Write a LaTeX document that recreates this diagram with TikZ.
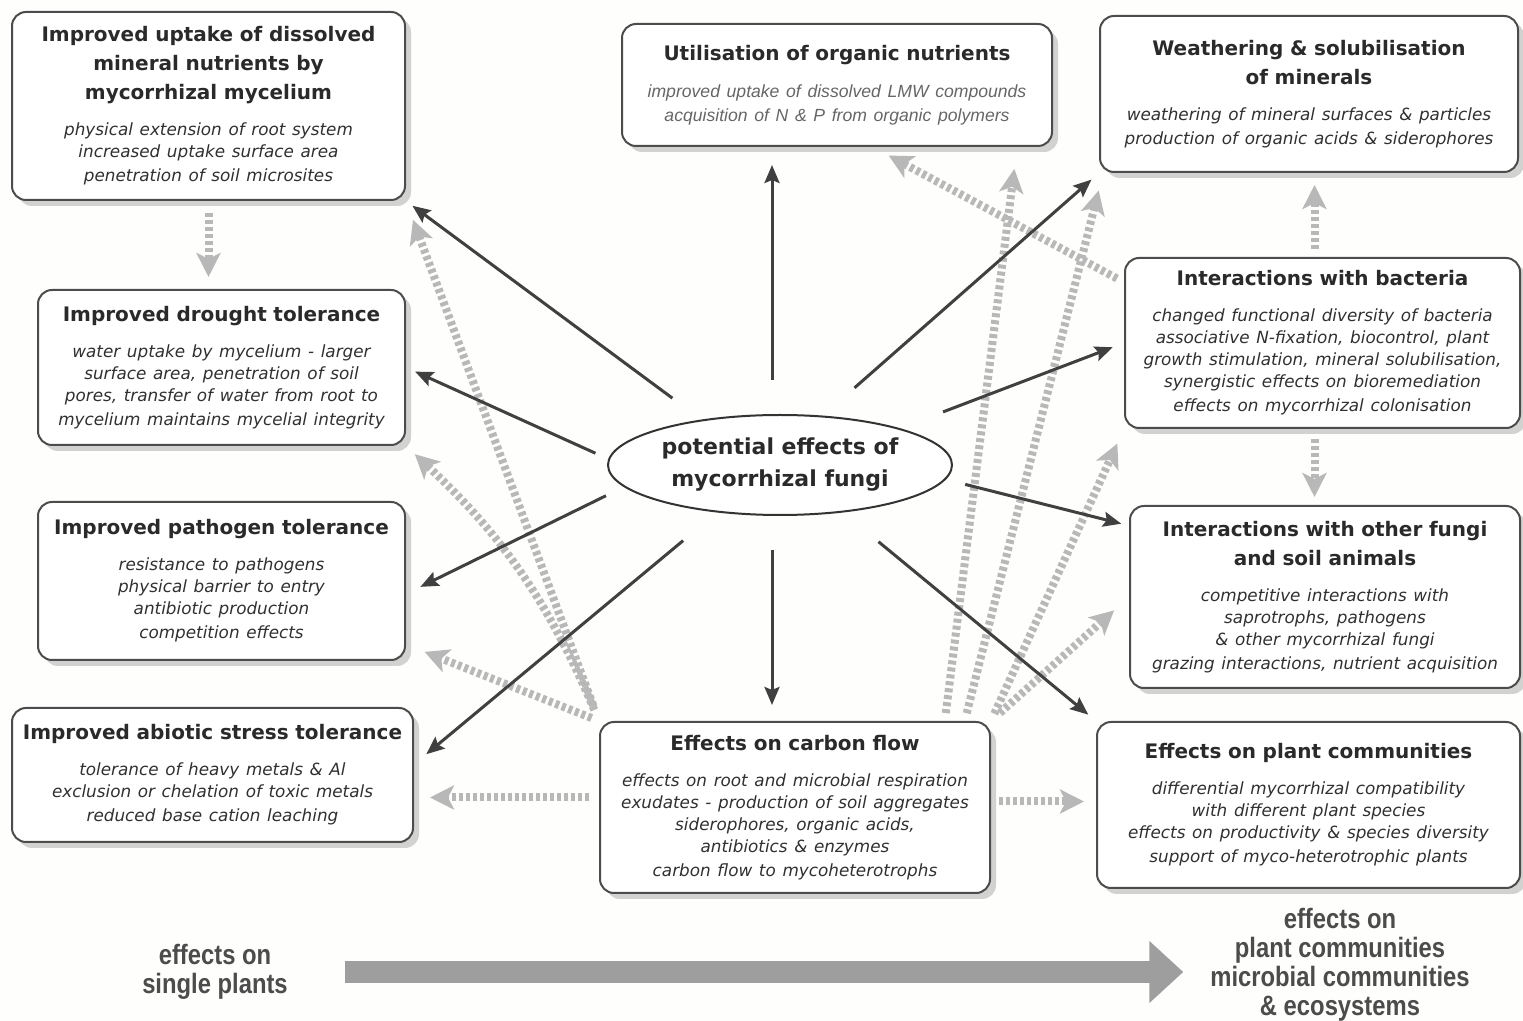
\documentclass[tikz,border=0pt]{standalone}
\usepackage{fontspec}
\setmainfont{DejaVu Sans}
\newfontfamily\arialfont{Liberation Sans}
\newfontfamily\narrowfont{Liberation Sans}[FakeStretch=0.85, BoldFont={Liberation Sans Bold}]
\usetikzlibrary{arrows.meta,shapes.geometric,shadows}
\setlength{\parindent}{0pt}

\definecolor{titlegray}{HTML}{2A2A2A}
\definecolor{itemgray}{HTML}{303030}
\definecolor{paper}{HTML}{FEFEFC}

% text of the boxes: bold heading, then italic details
\newcommand{\ttl}{\fontsize{10}{14.5}\selectfont\bfseries\color{titlegray}}
\newcommand{\itm}{\fontsize{8.4}{11}\selectfont\mdseries\itshape\color{itemgray}}

\begin{document}
\begin{tikzpicture}[x=0.5pt, y=-0.5pt,
    effbox/.style={draw=black!70, line width=1pt, rounded corners=7pt, fill=white, align=center,
      inner xsep=2pt, inner ysep=3pt, drop shadow={shadow xshift=3pt, shadow yshift=-3pt, opacity=0.35}},
    hub/.style={ellipse, draw=black!80, line width=1pt, fill=white, minimum width=172pt, minimum height=50pt,
      inner xsep=-8pt, inner ysep=0pt, align=center, font=\fontsize{11}{16}\selectfont\bfseries\color{titlegray}},
    strong/.style={draw=black!75, line width=1.5pt, -{Stealth[length=9pt,width=7.5pt,inset=1.5pt]}},
    weak/.style={draw=black!28, line width=4pt, dash pattern=on 2pt off 1.5pt, -{Stealth[length=12pt,width=12pt,inset=3pt]}},
    scalelabel/.style={align=center, font=\narrowfont\bfseries\fontsize{14}{14.5}\selectfont, text=black!70},
    bigarrow/.style={draw=black!38, line width=11pt, -{Triangle[length=17pt,width=30pt]}}]

    \path[use as bounding box, fill=paper] (0,0) rectangle (1523,1021);

    % Central ellipse
    \node[hub] (fx) at (780,465) {potential effects of\\ mycorrhizal fungi};

    % Left column - effects on the plant
    \node[effbox, minimum width=196.5pt, minimum height=94pt, text width=192.5pt] (uptake) at (208.5,106)
      {\ttl Improved uptake of dissolved\\ mineral nutrients by\\ mycorrhizal mycelium\par\vspace{7pt}
       \itm physical extension of root system\\ increased uptake surface area\\ penetration of soil microsites};
    \node[effbox, minimum width=183.5pt, minimum height=77.5pt, text width=179.5pt] (drought) at (221.5,367.5)
      {\ttl Improved drought tolerance\par\vspace{7pt}
       \itm water uptake by mycelium - larger\\ surface area, penetration of soil\\ pores, transfer of water from root to\\ mycelium maintains mycelial integrity};
    \node[effbox, minimum width=183.5pt, minimum height=79pt, text width=179.5pt] (pathogen) at (221.5,581)
      {\ttl Improved pathogen tolerance\par\vspace{7pt}
       \itm resistance to pathogens\\ physical barrier to entry\\ antibiotic production\\ competition effects};
    \node[effbox, minimum width=200.5pt, minimum height=67pt, text width=196.5pt] (abiotic) at (212.5,775)
      {\ttl Improved abiotic stress tolerance\par\vspace{7pt}
       \itm tolerance of heavy metals \& Al\\ exclusion or chelation of toxic metals\\ reduced base cation leaching};

    % Top middle
    \node[effbox, minimum width=215pt, minimum height=61pt, text width=211pt] (organic) at (837,85)
      {\ttl Utilisation of organic nutrients\par\vspace{7pt}
       \fontsize{8.8}{11.5}\selectfont\arialfont\mdseries\itshape\color{black!60}improved uptake of dissolved LMW compounds\\ acquisition of N \& P from organic polymers};

    % Right column - soil and community effects
    \node[effbox, minimum width=209pt, minimum height=78pt, text width=205pt] (weathering) at (1309,94)
      {\ttl Weathering \& solubilisation\\ of minerals\par\vspace{7pt}
       \itm weathering of mineral surfaces \& particles\\ production of organic acids \& siderophores};
    \node[effbox, minimum width=197.5pt, minimum height=85pt, text width=193.5pt] (bacteria) at (1322.5,343)
      {\ttl Interactions with bacteria\par\vspace{7pt}
       \itm changed functional diversity of bacteria\\ associative N-fixation, biocontrol, plant\\ growth stimulation, mineral solubilisation,\\ synergistic effects on bioremediation\\ effects on mycorrhizal colonisation};
    \node[effbox, minimum width=195pt, minimum height=91pt, text width=191pt] (fungi) at (1325,597)
      {\ttl Interactions with other fungi\\ and soil animals\par\vspace{7pt}
       \itm competitive interactions with\\ saprotrophs, pathogens\\ \& other mycorrhizal fungi\\ grazing interactions, nutrient acquisition};
    \node[effbox, minimum width=211.5pt, minimum height=83pt, text width=207.5pt] (plantcom) at (1308.5,805)
      {\ttl Effects on plant communities\par\vspace{7pt}
       \itm differential mycorrhizal compatibility\\ with different plant species\\ effects on productivity \& species diversity\\ support of myco-heterotrophic plants};

    % Bottom middle
    \node[effbox, minimum width=195pt, minimum height=85.5pt, text width=191pt] (carbon) at (795,807.5)
      {\ttl Effects on carbon flow\par\vspace{7pt}
       \itm effects on root and microbial respiration\\ exudates - production of soil aggregates\\ siderophores, organic acids,\\ antibiotics \& enzymes\\ carbon flow to mycoheterotrophs};

    % Indirect effects (dotted)
    \draw[weak, shorten <=6pt, shorten >=6pt] (uptake.south) -- (uptake.south |- drought.north);
    \draw[weak, shorten <=4pt, shorten >=6pt] ([xshift=-4pt]bacteria.north) -- ([xshift=-4pt]bacteria.north |- weathering.south);
    \draw[weak, shorten <=5pt, shorten >=4pt] ([xshift=-4pt]bacteria.south) -- ([xshift=-4pt]bacteria.south |- fungi.north);
    \draw[weak, shorten <=4pt, shorten >=9pt] (bacteria.163) -- (organic.-60);

    \draw[weak, shorten <=8pt, shorten >=10pt] (carbon.north west) -- (uptake.south east);
    \draw[weak, shorten <=6pt, shorten >=6pt] (carbon.north west) to[bend right=12] (drought.south east);
    \draw[weak, shorten <=4pt, shorten >=10pt] (carbon.north west) -- (pathogen.-19);
    \draw[weak, shorten <=5pt, shorten >=8pt] ([yshift=5pt]carbon.west) -- ([yshift=5pt]carbon.west -| abiotic.east);
    \draw[weak, shorten <=4pt, shorten >=6pt] ([yshift=3pt]carbon.east) -- ([yshift=3pt]carbon.east -| plantcom.west);
    \draw[weak, shorten <=4pt, shorten >=11pt] (carbon.30) -- (organic.-19);
    \draw[weak, shorten <=4pt, shorten >=9pt] (carbon.27) -- (weathering.201);
    \draw[weak, shorten <=4pt, shorten >=8pt] (carbon.north east) -- (bacteria.south west);
    \draw[weak, shorten <=6pt, shorten >=10pt] (carbon.north east) -- (fungi.west);

    % Direct effects
    \draw[strong, shorten <=18pt, shorten >=4pt] (fx.150) -- (uptake.south east);
    \draw[strong, shorten <=7pt, shorten >=5pt] (fx.178) -- (drought.east);
    \draw[strong, shorten <=10pt, shorten >=8pt] (fx.188) -- (pathogen.-4);
    \draw[strong, shorten <=22pt, shorten >=8pt] (fx.217) -- (abiotic.3);
    \draw[strong, shorten <=17pt, shorten >=9pt] ([xshift=-4pt]fx.north) -- ([xshift=-4pt]fx.north |- organic.south);
    \draw[strong, shorten <=17pt, shorten >=8pt] ([xshift=-4pt]fx.south) -- ([xshift=-4pt]fx.south |- carbon.north);
    \draw[strong, shorten <=21pt, shorten >=5pt] (fx.49) -- (weathering.south west);
    \draw[strong, shorten <=23pt, shorten >=6pt] (fx.17) -- (bacteria.west);
    \draw[strong, shorten <=10pt, shorten >=4pt] (fx.-5) -- (fungi.160);
    \draw[strong, shorten <=23pt, shorten >=5pt] (fx.-37) -- (plantcom.north west);

    % Scale from plant to ecosystem
    \node[scalelabel] (single) at (215,972) {effects on\\ single plants};
    \node[scalelabel] (comm) at (1340,965) {effects on\\ plant communities\\ microbial communities\\ \& ecosystems};
    \draw[bigarrow, shorten <=25pt, shorten >=10pt] (single.east) -- (single.east -| comm.west);
\end{tikzpicture}
\end{document}
